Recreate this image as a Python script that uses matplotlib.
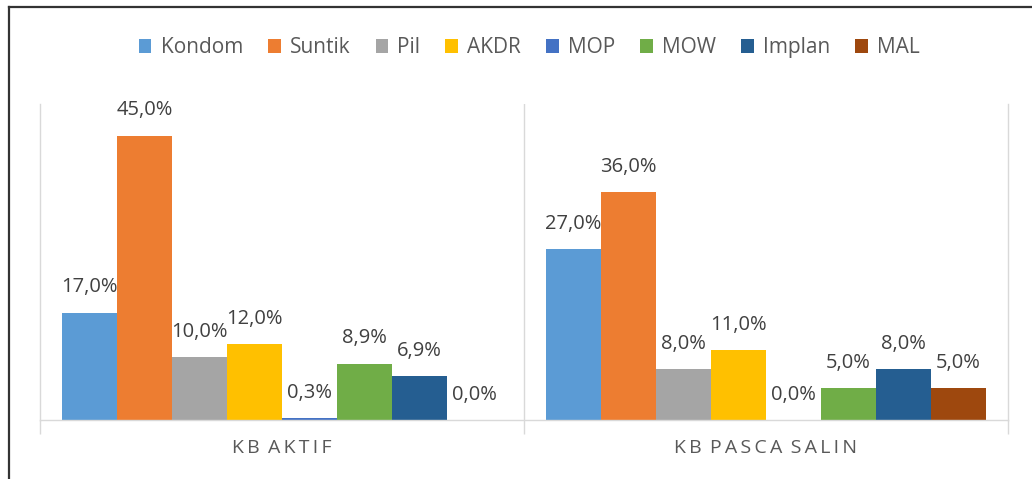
import matplotlib.pyplot as plt
import numpy as np
from matplotlib.lines import Line2D

plt.rcParams['font.family'] = ['Open Sans', 'DejaVu Sans']

categories = ['KB AKTIF', 'KB PASCA SALIN']
methods = ['Kondom', 'Suntik', 'Pil', 'AKDR', 'MOP', 'MOW', 'Implan', 'MAL']
kb_aktif = [17.0, 45.0, 10.0, 12.0, 0.3, 8.9, 6.9, 0.0]
kb_pasca_salin = [27.0, 36.0, 8.0, 11.0, 0.0, 5.0, 8.0, 5.0]
colors = ['#5B9BD5', '#ED7D31', '#A5A5A5', '#FFC000',
          '#4472C4', '#70AD47', '#255E91', '#9E480E']

W, H = 1032, 479
fig = plt.figure(figsize=(W / 100, H / 100), dpi=100)
ax = fig.add_axes([40 / W, 59 / H, 968 / W, 316 / H])

values = np.array([kb_aktif, kb_pasca_salin])  # rows = categories
x = np.arange(len(categories))
bw = 0.1136

for i, m in enumerate(methods):
    xs = x + (i - 3.5) * bw
    bars = ax.bar(xs, values[:, i] / 100, bw, color=colors[i], label=m, zorder=1)
    for b, v in zip(bars, values[:, i]):
        ax.annotate(f'{v:.1f}%'.replace('.', ','),
                    (b.get_x() + b.get_width() / 2, b.get_height()),
                    xytext=(0, 11), textcoords='offset points',
                    ha='center', va='bottom', fontsize=14.5, color='#404040')


def spaced(label):
    # Excel style letter spacing of the category labels
    return '\u2009 '.join('\u2009'.join(w) for w in label.split())


ax.set_xlim(-0.5, 1.5)
ax.set_ylim(0, 0.5)
ax.set_yticks([])

# tick marks at category borders, labels at centres
ax.set_xticks([-0.5, 0.5, 1.5])
ax.set_xticklabels([])
ax.tick_params(axis='x', which='major', length=10, color='#D9D9D9', width=1)
ax.set_xticks(x, minor=True)
ax.set_xticklabels([spaced(c) for c in categories], minor=True)
ax.tick_params(axis='x', which='minor', length=0, pad=14, labelsize=14, labelcolor='#595959')
ax.axvline(0.5, color='#D9D9D9', lw=1)

ax.spines['top'].set_visible(False)
for s in ['left', 'right', 'bottom']:
    ax.spines[s].set_color('#D9D9D9')
    ax.spines[s].set_linewidth(1)
    ax.spines[s].set_zorder(3)

fig.legend(loc='center', bbox_to_anchor=(0.513, 0.9), ncol=8, frameon=False,
           fontsize=15, labelcolor='#595959', handlelength=0.6, handleheight=0.6,
           handletextpad=0.45, columnspacing=1.2)

# outer border of the original screenshot
fig.add_artist(Line2D([9 / W, 1], [1 - 7 / H, 1 - 7 / H], color='#333333', lw=1.6))
fig.add_artist(Line2D([9 / W, 9 / W], [0, 1 - 7 / H], color='#333333', lw=1.6))

fig.savefig('out.png', dpi=100)
